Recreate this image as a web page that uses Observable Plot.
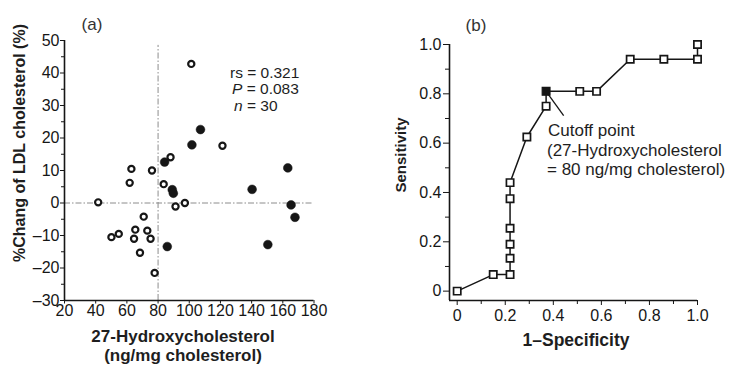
<!DOCTYPE html>
<html>
<head>
<meta charset="utf-8">
<script src="https://cdn.jsdelivr.net/npm/d3@7"></script>
<script src="https://cdn.jsdelivr.net/npm/@observablehq/plot@0.6"></script>
<style>
  html, body { margin: 0; padding: 0; background: #fff; }
  #wrap { position: relative; width: 735px; height: 368px; overflow: hidden;
          font-family: "Liberation Sans", Arial, Helvetica, sans-serif; color: #1e1e1e; background: #fff; }
  #wrap svg { position: absolute; top: 0; }
  .t { position: absolute; white-space: nowrap; line-height: 1; }
  .c { transform: translate(-50%, -50%); }
  .l { transform: translate(0, -50%); }
  .r { transform: translate(-50%, -50%) rotate(-90deg); }
  .b { font-weight: bold; }
</style>
</head>
<body>
<div id="wrap"></div>
<script>
// ---------- Panel (a): scatter ----------
// open circles
const openX = [101.3, 121.3, 62.9, 76.1, 88.0, 61.8, 83.6, 41.6, 97.2, 91.2, 70.8, 65.4, 73.1, 54.8, 50.1, 64.6, 75.2, 68.4, 77.8];
const openY = [42.8, 17.6, 10.5, 10.0, 14.1, 6.2, 5.8, 0.2, 0.0, -1.1, -4.2, -8.2, -8.5, -9.5, -10.5, -11.0, -11.0, -15.3, -21.5];
// filled circles
const filledX = [107.2, 101.7, 84.2, 163.2, 89.1, 89.8, 140.3, 165.3, 167.8, 85.9, 150.4];
const filledY = [22.6, 17.9, 12.6, 10.8, 4.1, 3.0, 4.2, -0.6, -4.4, -13.4, -12.8];
const xDomainA = [20, 180];
const yDomainA = [-30, 50];
const xTicksA = [20, 40, 60, 80, 100, 120, 140, 160, 180];
const yTicksA = [-30, -20, -10, 0, 10, 20, 30, 40, 50];
const yMinorA = [-25, -15, -5, 5, 15, 25, 35, 45];
const cutoffX = 80;          // vertical reference line
const cutoffXTop = 48.5;     // where it stops
const zeroY = 0;             // horizontal reference line
const statsLines = ["rs = 0.321", "P = 0.083", "n = 30"];

// ---------- Panel (b): ROC ----------
const rocFPR = [0, 0.15, 0.22, 0.22, 0.22, 0.22, 0.22, 0.22, 0.29, 0.37, 0.37, 0.51, 0.58, 0.72, 0.86, 1.0, 1.0];
const rocTPR = [0, 0.067, 0.067, 0.133, 0.19, 0.255, 0.375, 0.44, 0.625, 0.75, 0.81, 0.81, 0.81, 0.94, 0.94, 0.94, 1.0];
const cutoffIndex = 10;
const xDomainB = [-0.032, 1.0];
const yDomainB = [-0.038, 1.0];
const ticksB = [0, 0.2, 0.4, 0.6, 0.8, 1.0];
const minorB = [0.1, 0.3, 0.5, 0.7, 0.9];
const leaderEnd = [0.443, 0.712];
const cutoffText = ["Cutoff point", "(27-Hydroxycholesterol", "= 80 ng/mg cholesterol)"];

// ---------- build ----------
const ink = "#161616";
const openPts = openX.map((x, i) => ({x, y: openY[i]}));
const filledPts = filledX.map((x, i) => ({x, y: filledY[i]}));
const roc = rocFPR.map((x, i) => ({x, y: rocTPR[i]}));
const fmtA = d => d < 0 ? "\u2013" + Math.abs(d) : String(d);
const fmtB = d => d === 0 ? "0" : d.toFixed(1);
const baseStyle = {fontFamily: "Liberation Sans, Arial, sans-serif", fontSize: "16px", color: ink, background: "transparent", overflow: "visible"};

const plotA = Plot.plot({
  width: 370, height: 368,
  marginLeft: 64, marginRight: 56.5, marginTop: 40, marginBottom: 68,
  x: {domain: xDomainA},
  y: {domain: yDomainA},
  style: baseStyle,
  marks: [
    Plot.ruleX([cutoffX], {y1: yDomainA[0], y2: cutoffXTop, stroke: "#8c8c8c", strokeWidth: 1, strokeDasharray: "6 2 1.5 2"}),
    Plot.ruleY([zeroY], {x1: xDomainA[0], x2: xDomainA[1], stroke: "#8c8c8c", strokeWidth: 1, strokeDasharray: "6 2 1.5 2"}),
    Plot.ruleX([xDomainA[0]], {y1: yDomainA[0], y2: yDomainA[1], stroke: ink, strokeWidth: 1.6}),
    Plot.ruleY([yDomainA[0]], {x1: xDomainA[0], x2: xDomainA[1], stroke: ink, strokeWidth: 1.6}),
    Plot.axisX({ticks: xTicksA, tickSize: 3.5, tickPadding: 0.5, tickFormat: d => String(d), fontSize: 16, fill: ink, stroke: ink, label: null}),
    Plot.axisY({ticks: yMinorA, tickSize: 3, tickFormat: () => "", stroke: ink, label: null}),
    Plot.axisY({ticks: yTicksA, tickSize: 4, tickPadding: 1, tickFormat: fmtA, fontSize: 16, fill: ink, stroke: ink, label: null}),
    Plot.dot(openPts, {x: "x", y: "y", r: 3.1, stroke: ink, strokeWidth: 2.2, fill: "#fff"}),
    Plot.dot(filledPts, {x: "x", y: "y", r: 4.4, fill: ink, stroke: ink, strokeWidth: 0.5})
  ]
});
plotA.style.left = "0px";

const plotB = Plot.plot({
  width: 365, height: 368,
  marginLeft: 79, marginRight: 38, marginTop: 44, marginBottom: 68,
  x: {domain: xDomainB},
  y: {domain: yDomainB},
  style: baseStyle,
  marks: [
    Plot.ruleX([xDomainB[0]], {y1: yDomainB[0], y2: yDomainB[1], stroke: ink, strokeWidth: 1.6}),
    Plot.ruleY([yDomainB[0]], {x1: xDomainB[0], x2: xDomainB[1], stroke: ink, strokeWidth: 1.6}),
    Plot.axisX({ticks: minorB, tickSize: 4, tickFormat: () => "", stroke: ink, label: null}),
    Plot.axisX({ticks: ticksB, tickSize: 5, tickPadding: 4, tickFormat: fmtB, fontSize: 16, fill: ink, stroke: ink, label: null}),
    Plot.axisY({ticks: minorB, tickSize: 4, tickFormat: () => "", stroke: ink, label: null}),
    Plot.axisY({ticks: ticksB, tickSize: 6, tickPadding: 2, tickFormat: fmtB, fontSize: 16, fill: ink, stroke: ink, label: null}),
    Plot.link([roc[cutoffIndex]], {x1: "x", y1: "y", x2: () => leaderEnd[0], y2: () => leaderEnd[1], stroke: ink, strokeWidth: 1.3}),
    Plot.line(roc, {x: "x", y: "y", stroke: ink, strokeWidth: 1.5}),
    Plot.dot(roc.filter((d, i) => i !== cutoffIndex), {x: "x", y: "y", symbol: "square", r: 4.1, stroke: ink, strokeWidth: 1.7, fill: "#fff"}),
    Plot.dot([roc[cutoffIndex]], {x: "x", y: "y", symbol: "square", r: 4.4, stroke: ink, strokeWidth: 1.2, fill: ink})
  ]
});
plotB.style.left = "370px";

const wrap = document.getElementById("wrap");
wrap.appendChild(plotA);
wrap.appendChild(plotB);

function addText(html, cls, left, top, size, extra) {
  const d = document.createElement("div");
  d.className = "t " + cls;
  d.innerHTML = html;
  d.style.left = left + "px";
  d.style.top = top + "px";
  d.style.fontSize = size + "px";
  if (extra) Object.assign(d.style, extra);
  wrap.appendChild(d);
}
addText("(a)", "c", 92, 24, 17, {color: "#333"});
addText("(b)", "c", 476, 25, 17, {color: "#333"});
addText("%Chang of LDL cholesterol (%)", "r b", 20, 143, 16);
addText("27-Hydroxycholesterol", "c b", 183, 336, 17);
addText("(ng/mg cholesterol)", "c b", 183, 355, 17);
addText("Sensitivity", "r b", 400, 155, 15);
addText("1\u2013Specificity", "c b", 576, 341, 17.5);
addText(statsLines[0], "l", 230, 73, 15.5);
addText("<i>P</i>" + statsLines[1].slice(1), "l", 232, 89, 15.5);
addText("<i>n</i>" + statsLines[2].slice(1), "l", 234, 106, 15.5);
addText(cutoffText[0], "l", 548, 130, 17);
addText(cutoffText[1], "l", 547, 150, 17);
addText(cutoffText[2], "l", 547, 169, 17);
</script>
</body>
</html>
